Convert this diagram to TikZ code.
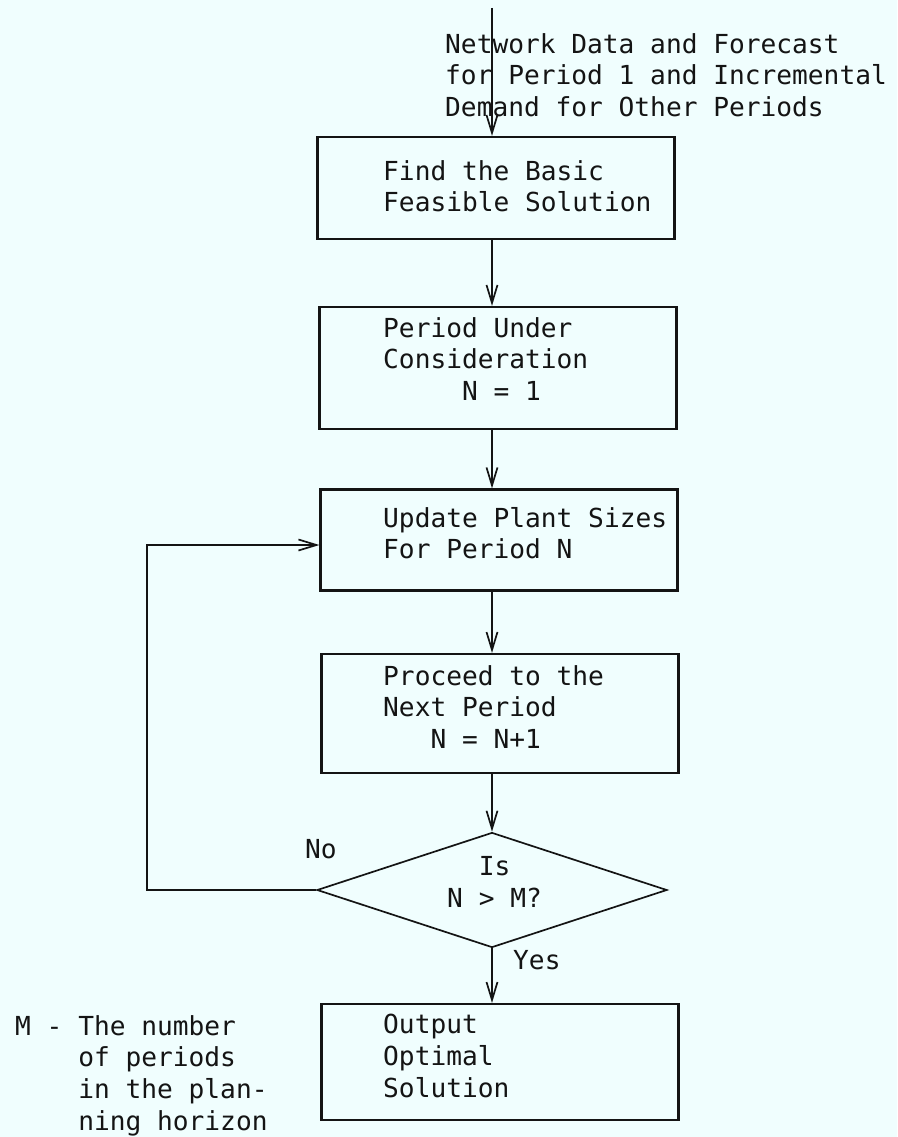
\documentclass[tikz,border=0pt]{standalone}
\usepackage{fontspec}
\setmainfont{DejaVu Sans Mono}
\usetikzlibrary{shapes.geometric,arrows.meta}
\definecolor{paper}{RGB}{240,254,254}
\definecolor{ink}{RGB}{20,20,20}
\begin{document}
\begin{tikzpicture}[x=1pt,y=-1pt,
  box/.style={draw=ink, line width=2.2pt, minimum width=357pt, inner sep=0pt},
  dec/.style={draw=ink, diamond, line width=1.7pt, minimum width=350pt, minimum height=115pt, inner sep=0pt},
  txt/.style={inner sep=0pt, align=left, text=ink, font=\fontsize{26.2pt}{31.7pt}\selectfont},
  link/.style={draw=ink, line width=1.7pt},
  flow/.style={link, -{Straight Barb[length=18pt,width=11pt,line width=1.7pt]}}]

\fill[paper] (0,0) rectangle (897,1137);
\useasboundingbox (0,0) rectangle (897,1137);

% boxes
\node[box, minimum height=102pt] (b1) at (496,188) {};
\node[box, minimum height=122pt] (b2) at (498,368) {};
\node[box, minimum height=101pt] (b3) at (499,540) {};
\node[box, minimum height=119pt] (b4) at (500,713.5) {};
\node[box, minimum height=116pt] (b5) at (500,1062) {};
\node[dec] (d) at (492,890) {};

% texts
\node[txt, anchor=north west] (intext) at (445,33)
  {Network Data and Forecast\\for Period 1 and Incremental\\Demand for Other Periods};
\node[txt, anchor=north west] (t1) at (383,160) {Find the Basic\\Feasible Solution};
\node[txt, anchor=north west] (t2) at (383,317) {Period Under\\Consideration\\\hphantom{xxxxx}N = 1};
\node[txt, anchor=north west] (t3) at (383,507) {Update Plant Sizes\\For Period N};
\node[txt, anchor=north west] (t4) at (383,665) {Proceed to the\\Next Period\\\hphantom{xxx}N = N+1};
\node[txt, anchor=north west] (t5) at (383,1014) {Output\\Optimal\\Solution};
\node[txt, anchor=north west] (tq) at (447,856) {\hphantom{xx}Is\\N > M?};
\node[txt, anchor=base west] (tno) at (305,858) {No};
\node[txt, anchor=base west] (tyes) at (513,969) {Yes};
\node[txt, anchor=north west] (tnote) at (15,1015)
  {M - The number\\\hphantom{M - }of periods\\\hphantom{M - }in the plan-\\\hphantom{M - }ning horizon};

% connectors
\coordinate (col) at (492,0);
\coordinate (src) at (492,8);
\coordinate (loopx) at (147,0);
\draw[flow] (src) -- (b1.north -| src);
\draw[flow] (b1.south -| col) -- (b2.north -| col);
\draw[flow] (b2.south -| col) -- (b3.north -| col);
\draw[flow] (b3.south -| col) -- (b4.north -| col);
\draw[flow] (b4.south -| col) -- (d.north);
\draw[flow] (d.south) -- (b5.north -| d.south);
\draw[flow] (d.west) -- (d.west -| loopx) -- ([yshift=-5pt]b3.west -| loopx) -- ([yshift=-5pt]b3.west);
\end{tikzpicture}
\end{document}
